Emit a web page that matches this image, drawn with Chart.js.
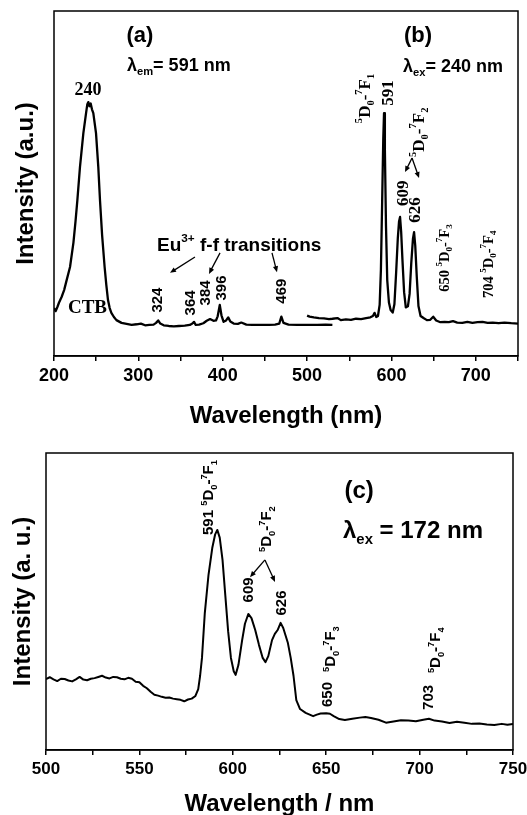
<!DOCTYPE html>
<html><head><meta charset="utf-8">
<script src="https://cdn.jsdelivr.net/npm/chart.js@4.4.0/dist/chart.umd.min.js"></script>
<style>
html,body{margin:0;padding:0;background:#fff;width:527px;height:815px;overflow:hidden}
canvas{position:absolute;left:0}
#c1{top:0px}
#c2{top:430px}
</style></head><body>
<canvas id="c1" width="527" height="430"></canvas>
<canvas id="c2" width="527" height="385"></canvas>
<script>
// (a) excitation spectrum, lambda_em = 591 nm
const excWavelength = [200,202,204,206,209,212,215,219,223,225.5,227.7,230.8,234.8,238,239.5,240.7,242,243.5,245,246.6,249.8,252.5,254.5,257,260,262,264,266,268,271,274,280,286,292,298,303,308,313,318,321,323.5,326,330,336,342,348,355,361,364,366,368,372,377,381,385,389,392,394,396.5,398.5,401,404,406.5,409,413,418,422,428,435,445,455,462,467,469.5,472,478,488,500,512,522,530];
const excIntensity = [13.9,13.0,14.2,15.5,17.1,19.1,22.0,25.8,32.8,39,45.2,54.8,64.6,70.4,73.0,73.6,72.4,73.2,71.5,70.4,64.6,54.8,45.2,35.1,25.8,20.6,16.2,13.9,12.5,11.3,10.4,9.6,9.3,9.0,9.2,9.4,8.9,9.0,9.1,9.6,10.3,9.4,8.9,8.7,8.6,8.7,8.8,9.0,9.4,9.9,9.0,9.1,9.5,10.2,10.7,10.2,10.3,11.5,14.8,11.8,9.9,10.3,11.2,10.0,9.4,9.3,9.7,9.1,9.0,9.0,9.0,9.1,9.4,11.4,9.6,9.1,9.0,9.0,9.0,9.1,9.0];
// (b) emission spectrum, lambda_ex = 240 nm
const emWavelength = [500,503,508,514,520,526,530,536,540,546,552,558,564,570,575,578,580,582,584,586,587.5,589,590.3,591.2,592.2,593.5,595,597,599,601.5,603.5,605.5,607.5,609,610.2,611.5,613,615,617,619.5,621.5,623.5,625.5,626.8,628.2,630,632,634.5,638,642,646,649.5,653,658,663,668,673,678,684,690,696,702,708,714,720,727,734,742,750];
const emIntensity = [11.7,11.4,11.2,11.0,10.9,10.7,10.8,11.0,10.4,10.6,10.5,10.8,10.7,11.0,11.2,11.6,12.5,11.3,11.6,14.8,25,45,63,70.4,60,38,22,15.5,13.3,12.6,15,24,34,39,40.3,36,28,18.5,14.1,14.4,18,27,34,35.9,32,23,14.5,11.6,11.0,10.4,10.5,11.4,10.3,9.8,9.9,9.8,10.1,9.7,9.6,9.9,9.6,9.8,9.9,9.6,9.7,9.5,9.7,9.5,9.4];
// (c) emission spectrum, lambda_ex = 172 nm
const vuvWavelength = [500,502,504,506,508,510,512,514,516,518,520,522,524,526,528,530,532,534,536,538,540,542,544,546,548,550,552,554,556,558,560,562,564,566,568,570,572,574,576,578,580,581.5,582.5,583.5,585,587,589,590.5,591.7,593,594.5,596,597.5,599,600.5,601.5,603,605,606.5,608.3,610,612,614,616,617.5,619,621,622.5,624,625.6,627,629.5,631,632.5,634,636,639,643,645,647,650,652,654,657,660,664,668,671,674,678,682,686,690,694,698,702,705,708,712,716,720,724,728,732,736,740,744,747,750];
const vuvIntensity = [23.9,24.5,23.8,23.2,24.0,23.9,23.4,23.1,23.8,24.6,23.7,23.5,24.0,24.2,24.6,25.0,24.4,24.1,24.6,24.5,24.0,23.8,24.3,24.0,23.0,22.8,21.6,20.8,19.6,18.6,18.3,17.9,17.6,17.7,17.3,17.1,16.9,16.4,17.0,17.3,18.2,20.5,25,31,46,59,68,72.5,74.1,71.5,64,52,40,31,26.5,25.3,28.6,37,42.5,45.8,44.4,40.4,35.4,31.0,29.6,31.6,37,39.1,40.4,42.8,41.1,36,31,25,16.8,13.8,12.5,11.4,11.9,12.3,12.4,12.2,11.4,10.4,10.1,10.5,10.9,11.1,10.8,10.2,9.2,9.6,10.0,9.9,9.7,10.2,10.5,9.9,9.6,9.1,9.5,9.2,8.8,8.9,8.6,8.4,8.8,8.5,8.8];

const topTickLabels = [200,300,400,500,600,700];
const bottomTickLabels = [500,550,600,650,700,750];

const SANS = '"Liberation Sans", Arial, Helvetica, sans-serif';
const SERIF = '"Liberation Serif", "Times New Roman", serif';

function parseRich(s){
  const runs=[]; let i=0;
  while(i<s.length){
    const c=s[i];
    if(c==='^'||c==='_'){
      const kind=c==='^'?'sup':'sub'; i++;
      let t;
      if(s[i]==='{'){const j=s.indexOf('}',i); t=s.slice(i+1,j); i=j+1;}
      else {t=s[i]; i++;}
      runs.push({t,kind});
    } else {
      let j=i; while(j<s.length && s[j]!=='^' && s[j]!=='_') j++;
      runs.push({t:s.slice(i,j),kind:'n'}); i=j;
    }
  }
  return runs;
}
function drawRich(ctx, s, x, y, o){
  const size=o.size, fam=o.family, capH=(fam===SERIF?0.662:0.716);
  const runs=parseRich(s);
  const small=size*0.62;
  let w=0;
  runs.forEach(r=>{ctx.font=`bold ${r.kind==='n'?size:small}px ${fam}`; r.w=ctx.measureText(r.t).width; w+=r.w;});
  ctx.save(); ctx.translate(x,y); ctx.rotate(o.rot||0);
  ctx.textBaseline='alphabetic'; ctx.textAlign='left'; ctx.fillStyle='#000';
  let cx = o.align==='center' ? -w/2 : 0;
  const base = capH*size/2;
  runs.forEach(r=>{
    ctx.font=`bold ${r.kind==='n'?size:small}px ${fam}`;
    const by = base + (r.kind==='sup' ? -0.45*size : r.kind==='sub' ? 0.24*size : 0);
    ctx.fillText(r.t, cx, by); cx+=r.w;
  });
  ctx.restore();
}
function drawArrow(ctx,x1,y1,x2,y2){
  ctx.save(); ctx.strokeStyle='#000'; ctx.fillStyle='#000'; ctx.lineWidth=1.3;
  const ang=Math.atan2(y2-y1,x2-x1), L=6, H=2.6;
  ctx.beginPath(); ctx.moveTo(x1,y1); ctx.lineTo(x2-Math.cos(ang)*L*0.7,y2-Math.sin(ang)*L*0.7); ctx.stroke();
  ctx.beginPath(); ctx.moveTo(x2,y2);
  ctx.lineTo(x2-L*Math.cos(ang)+H*Math.sin(ang), y2-L*Math.sin(ang)-H*Math.cos(ang));
  ctx.lineTo(x2-L*Math.cos(ang)-H*Math.sin(ang), y2-L*Math.sin(ang)+H*Math.cos(ang));
  ctx.closePath(); ctx.fill(); ctx.restore();
}

const annotPlugin = {
  id:'annot',
  afterDraw(chart, args, opts){
    const ctx=chart.ctx, a=chart.chartArea, xs=chart.scales.x, ys=chart.scales.y;
    ctx.save();
    ctx.strokeStyle='#000'; ctx.lineWidth=1.5;
    ctx.strokeRect(a.left, a.top, a.right-a.left, a.bottom-a.top);
    (opts.items||[]).forEach(it=>{
      if(it.arrow){
        drawArrow(ctx, xs.getPixelForValue(it.from[0]), ys.getPixelForValue(it.from[1]),
                       xs.getPixelForValue(it.to[0]), ys.getPixelForValue(it.to[1]));
      } else {
        drawRich(ctx, it.text, xs.getPixelForValue(it.x), ys.getPixelForValue(it.y), it);
      }
    });
    // axis titles
    const yt=opts.yTitle, xt=opts.xTitle;
    ctx.fillStyle='#000';
    ctx.save();
    ctx.translate(a.left - yt.gap, (a.top+a.bottom)/2);
    ctx.rotate(-Math.PI/2);
    ctx.font=`bold ${yt.size}px ${SANS}`; ctx.textAlign='center'; ctx.textBaseline='alphabetic';
    ctx.fillText(yt.text,0,0);
    ctx.restore();
    ctx.font=`bold ${xt.size}px ${SANS}`; ctx.textAlign='center'; ctx.textBaseline='alphabetic';
    ctx.fillText(xt.text,(a.left+a.right)/2, a.bottom + xt.gap);
    ctx.restore();
  }
};

function makeChart(id, datasets, xmin, xmax, step, labels, pad, axisH, tickFont, tickPad, annot){
  return new Chart(document.getElementById(id), {
    type:'line',
    data:{datasets},
    options:{
      responsive:false, animation:false, events:[],
      layout:{padding:pad},
      plugins:{legend:{display:false}, tooltip:{enabled:false}, annot},
      elements:{point:{radius:0}, line:{tension:0, borderJoinStyle:'round'}},
      scales:{
        x:{type:'linear', min:xmin, max:xmax,
           ticks:{stepSize:step, autoSkip:false, maxRotation:0, color:'#000', padding:tickPad,
                  font:{family:SANS, size:tickFont, weight:'bold'},
                  callback:(v)=>labels.includes(v)?String(v):''},
           grid:{drawOnChartArea:false, drawTicks:true, tickLength:5, color:'#000', lineWidth:1.5},
           border:{display:true, color:'#000', width:1.5},
           afterFit:(s)=>{s.height=axisH; s.paddingLeft=0; s.paddingRight=0;}
        },
        y:{display:false, min:0, max:100}
      }
    },
    plugins:[annotPlugin]
  });
}

const pts=(xs,ys)=>xs.map((x,i)=>({x, y:ys[i]}));

makeChart('c1', [
  {data:pts(excWavelength,excIntensity), borderColor:'#000', borderWidth:2.3, fill:false},
  {data:pts(emWavelength,emIntensity), borderColor:'#000', borderWidth:2.3, fill:false}
], 200, 750, 50, topTickLabels, {left:54, right:9, top:11, bottom:0}, 74, 18, 4, {
  yTitle:{text:'Intensity (a.u.)', size:24, gap:21},
  xTitle:{text:'Wavelength (nm)', size:24, gap:67},
  items:[
    {text:'(a)', x:301.9, y:93.3, size:22, family:SANS, align:'center'},
    {text:'λ_{em}= 591 nm', x:286.5, y:84.5, size:18, family:SANS},
    {text:'240', x:240.3, y:77.4, size:18, family:SERIF, align:'center'},
    {text:'(b)', x:631.5, y:93.3, size:22, family:SANS, align:'center'},
    {text:'λ_{ex}= 240 nm', x:613.7, y:84.2, size:18, family:SANS},
    {text:'^5D_0-^7F_1', x:567.5, y:67.5, size:17, family:SERIF, rot:-Math.PI/2},
    {text:'591', x:594.7, y:76.2, size:17, family:SERIF, rot:-Math.PI/2, align:'center'},
    {text:'^5D_0-^7F_2', x:631.5, y:57.7, size:17, family:SERIF, rot:-Math.PI/2},
    {arrow:true, from:[624.4,57.4], to:[616.1,53.3]},
    {arrow:true, from:[624.4,57.4], to:[632.7,51.6]},
    {text:'609', x:612.5, y:47.2, size:17, family:SERIF, rot:-Math.PI/2, align:'center'},
    {text:'626', x:626.7, y:42.3, size:17, family:SERIF, rot:-Math.PI/2, align:'center'},
    {text:'650 ^5D_0-^7F_3', x:662.3, y:18.6, size:14.5, family:SERIF, rot:-Math.PI/2},
    {text:'704 ^5D_0-^7F_4', x:714.5, y:16.8, size:14.5, family:SERIF, rot:-Math.PI/2},
    {text:'Eu^{3+} f-f transitions', x:322.1, y:32.4, size:19, family:SANS},
    {arrow:true, from:[367.1,28.7], to:[337.5,24.1]},
    {arrow:true, from:[396.8,29.9], to:[383.7,23.8]},
    {arrow:true, from:[458.4,29.9], to:[464.3,24.3]},
    {text:'324', x:322.1, y:16.2, size:15, family:SANS, rot:-Math.PI/2, align:'center'},
    {text:'364', x:361.2, y:15.4, size:15, family:SANS, rot:-Math.PI/2, align:'center'},
    {text:'384', x:379.0, y:18.3, size:15, family:SANS, rot:-Math.PI/2, align:'center'},
    {text:'396', x:398.0, y:19.7, size:15, family:SANS, rot:-Math.PI/2, align:'center'},
    {text:'469', x:469.1, y:18.8, size:15, family:SANS, rot:-Math.PI/2, align:'center'},
    {text:'CTB', x:239.7, y:14.2, size:19, family:SERIF, align:'center'}
  ]
});

makeChart('c2', [
  {data:pts(vuvWavelength,vuvIntensity), borderColor:'#000', borderWidth:2, fill:false}
], 500, 750, 25, bottomTickLabels, {left:46, right:14, top:23, bottom:0}, 65, 17, 4, {
  yTitle:{text:'Intensity (a. u.)', size:24, gap:16},
  xTitle:{text:'Wavelength / nm', size:24, gap:61},
  items:[
    {text:'(c)', x:667.6, y:87.7, size:24, family:SANS, align:'center'},
    {text:'λ_{ex} = 172 nm', x:659, y:74.3, size:24, family:SANS},
    {text:'591 ^5D_0-^7F_1', x:586.7, y:72.4, size:15, family:SANS, rot:-Math.PI/2},
    {text:'^5D_0-^7F_2', x:617.8, y:66.7, size:15, family:SANS, rot:-Math.PI/2},
    {arrow:true, from:[617.2,64.0], to:[609.2,58.2]},
    {arrow:true, from:[617.2,64.0], to:[622.6,56.6]},
    {text:'609', x:608.1, y:53.9, size:15, family:SANS, rot:-Math.PI/2, align:'center'},
    {text:'626', x:625.8, y:49.5, size:15, family:SANS, rot:-Math.PI/2, align:'center'},
    {text:'^5D_0-^7F_3', x:652.0, y:26.3, size:15, family:SANS, rot:-Math.PI/2},
    {text:'650', x:650.4, y:18.7, size:15, family:SANS, rot:-Math.PI/2, align:'center'},
    {text:'^5D_0-^7F_4', x:708.2, y:25.9, size:15, family:SANS, rot:-Math.PI/2},
    {text:'703', x:704.5, y:17.7, size:15, family:SANS, rot:-Math.PI/2, align:'center'}
  ]
});
</script>
</body></html>
